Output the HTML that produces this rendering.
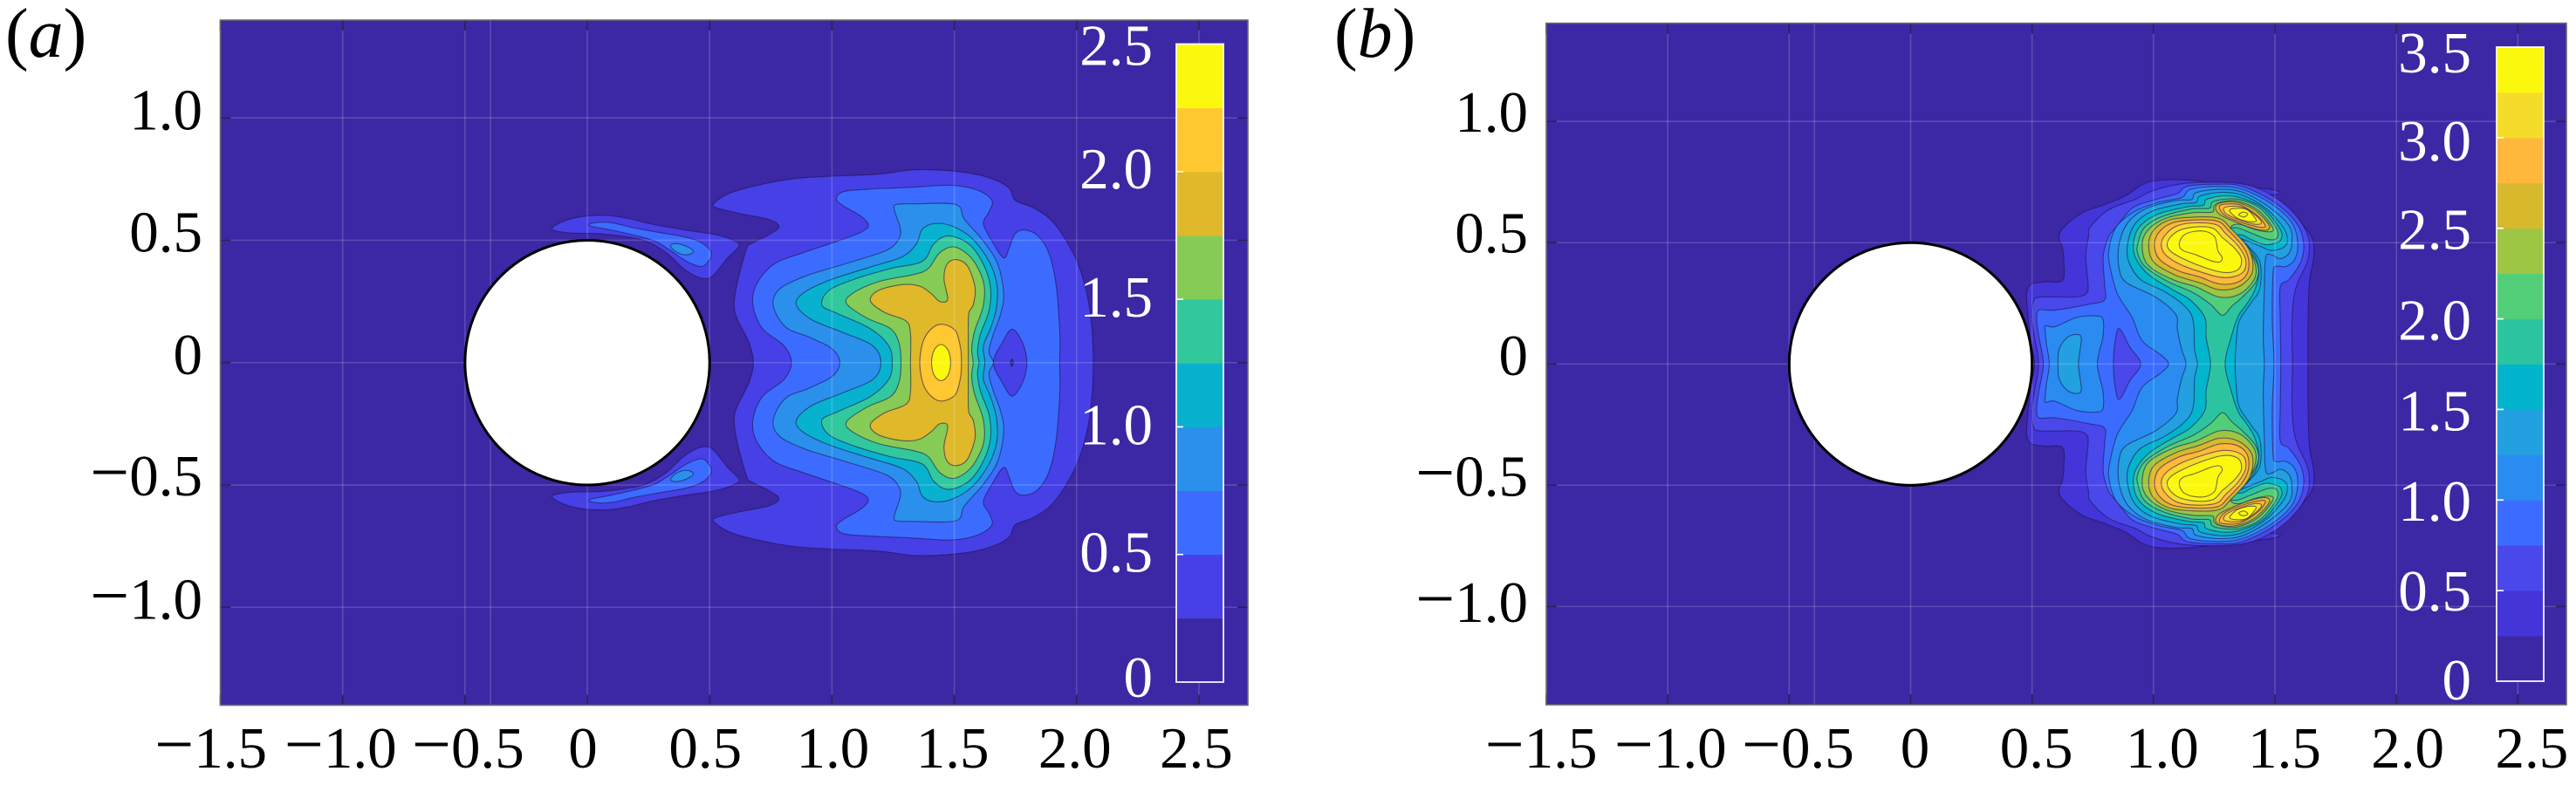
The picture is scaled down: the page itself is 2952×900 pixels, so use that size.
<!DOCTYPE html>
<html lang="en">
<head>
<meta charset="utf-8">
<title>Contour panels a and b</title>
<style>
html,body{margin:0;padding:0;background:#fff;}
svg{display:block;}
text{font-family:"Liberation Serif",serif;}
</style>
</head>
<body>
<svg id="figure" xmlns="http://www.w3.org/2000/svg" width="2952" height="900" viewBox="0 0 2952 900">
  <rect width="2952" height="900" fill="#ffffff"/>
  <text x="6" y="65" font-size="80" fill="#000">(<tspan font-style="italic">a</tspan>)</text>
  <text x="1529" y="65" font-size="80" fill="#000">(<tspan font-style="italic">b</tspan>)</text>
  <g id="panel-a"></g>
  <g id="panel-b"></g>
</svg>
<script>
// ---- shared axis values ----
const xTicks = [-1.5,-1,-0.5,0,0.5,1,1.5,2,2.5];
const xTickLabels = ['\u22121.5','\u22121.0','\u22120.5','0','0.5','1.0','1.5','2.0','2.5'];
const yTicks = [-1,-0.5,0,0.5,1];
const yTickLabels = ['\u22121.0','\u22120.5','0','0.5','1.0'];
const extraGridX = [-0.396];
const cylinderRadius = [0.5];

// ---- panel (a) values ----
const levelsA = [0,0.25,0.5,0.75,1,1.25,1.5,1.75,2,2.25,2.5];
const colorsA = ['#3c27a4','#4640e6','#3c6cff','#2a90ec','#08b2cf','#32c89e','#86cb55','#dfb92a','#ffc730','#fbf80e'];
const cbarTicksA = [0,0.5,1,1.5,2,2.5];
const cbarLabelsA = ['0','0.5','1.0','1.5','2.0','2.5'];
// contours: upper half in data coordinates (mirrored about y = 0)
const a025 = [[.679,0],[.661,.081],[.614,.176],[.600,.235],[.614,.331],[.650,.461],[.667,.485],[.739,.521],[.784,.556],[.739,.586],[.620,.610],[.525,.634],[.519,.652],[.584,.693],[.715,.729],[.858,.753],[1.000,.762],[1.190,.770],[1.333,.788],[1.452,.786],[1.571,.773],[1.666,.747],[1.726,.711],[1.749,.663],[1.821,.634],[1.892,.586],[1.951,.509],[2.011,.390],[2.053,.224],[2.068,0]];
const a025Lobe = [[-.144,.545],[-.106,.574],[-.034,.595],[.073,.602],[.168,.589],[.263,.566],[.382,.545],[.524,.523],[.596,.500],[.620,.477],[.572,.426],[.524,.366],[.495,.345],[.453,.349],[.394,.384],[.322,.450],[.239,.497],[.156,.515],[.049,.527],[-.070,.530]];
const a050 = [[.834,0],[.804,.069],[.715,.140],[.677,.235],[.691,.319],[.762,.402],[.881,.449],[1.024,.497],[1.119,.533],[1.149,.562],[1.119,.598],[1.048,.640],[1.018,.669],[1.048,.699],[1.155,.709],[1.333,.717],[1.488,.725],[1.595,.705],[1.654,.663],[1.642,.616],[1.619,.568],[1.654,.497],[1.702,.428],[1.726,.473],[1.749,.527],[1.785,.542],[1.839,.521],[1.886,.449],[1.916,.319],[1.931,.128],[1.931,0]];
const a050Lobe = [[.011,.559],[.025,.571],[.096,.572],[.191,.551],[.287,.533],[.394,.515],[.465,.491],[.507,.450],[.495,.414],[.465,.393],[.406,.414],[.334,.462],[.275,.497],[.191,.521],[.096,.542]];
const a050Hole = [[1.660,0],[1.696,.081],[1.737,.137],[1.779,.081],[1.797,0]];
const a025Hole = [[1.729,0],[1.735,.015],[1.742,0]];
const a075 = [[1.032,0],[1.000,.057],[.905,.105],[.810,.146],[.760,.235],[.786,.301],[.893,.354],[1.048,.402],[1.214,.455],[1.268,.497],[1.280,.545],[1.256,.622],[1.262,.646],[1.333,.649],[1.506,.646],[1.541,.586],[1.619,.497],[1.678,.402],[1.702,.283],[1.690,.200],[1.660,.117],[1.642,.045],[1.660,0]];
const a075Lobe = [[.340,.479],[.370,.486],[.411,.473],[.433,.456],[.423,.444],[.394,.441],[.358,.456]];
const a100 = [[1.200,0],[1.167,.069],[1.048,.122],[.917,.176],[.855,.235],[.881,.283],[.988,.336],[1.155,.390],[1.286,.432],[1.345,.485],[1.369,.545],[1.416,.568],[1.488,.559],[1.571,.509],[1.642,.414],[1.674,.319],[1.672,.224],[1.648,.140],[1.619,.069],[1.625,0]];
const a125 = [[1.246,0],[1.232,.069],[1.155,.140],[1.024,.200],[.959,.235],[.988,.295],[1.095,.342],[1.238,.384],[1.369,.414],[1.416,.485],[1.476,.518],[1.559,.485],[1.619,.402],[1.648,.307],[1.642,.212],[1.607,.117],[1.595,.045],[1.601,0]];
const a150 = [[1.282,0],[1.274,.081],[1.238,.140],[1.143,.182],[1.060,.241],[1.084,.283],[1.190,.331],[1.333,.360],[1.393,.384],[1.440,.449],[1.500,.473],[1.571,.426],[1.619,.331],[1.619,.235],[1.583,.128],[1.571,.057],[1.577,0]];
const a175 = [[1.321,0],[1.321,.117],[1.303,.170],[1.214,.206],[1.157,.253],[1.190,.295],[1.286,.319],[1.357,.313],[1.405,.283],[1.440,.250],[1.473,.259],[1.458,.342],[1.470,.402],[1.506,.421],[1.553,.396],[1.585,.307],[1.577,.235],[1.559,.200],[1.557,.105],[1.557,0]];
const a200 = [[1.359,0],[1.375,.093],[1.416,.146],[1.458,.156],[1.506,.128],[1.526,.057],[1.529,0]];
const a225 = [[1.407,0],[1.418,.052],[1.446,.074],[1.474,.052],[1.485,0]];
const contoursA = [[1,a025],[1,a025Lobe],[2,a050],[2,a050Lobe],[1,a050Hole],[0,a025Hole],[3,a075Lobe],[3,a075],[4,a100],[5,a125],[6,a150],[7,a175],[8,a200],[9,a225]];

// ---- panel (b) values ----
const levelsB = [0,0.25,0.5,0.75,1,1.25,1.5,1.75,2,2.25,2.5,2.75,3,3.25,3.5];
const colorsB = ['#3c27a4','#4335d8','#4a48ea','#3c6cff','#2a8cf0','#22a0e0','#02b5cc','#2cc4a0','#52ce78','#9cc644','#d8b82c','#ffb83c','#f6dc2a','#fbf80e'];
const cbarTicksB = [0,0.5,1,1.5,2,2.5,3,3.5];
const cbarLabelsB = ['0','0.5','1.0','1.5','2.0','2.5','3.0','3.5'];
const b025 = [[.511,0],[.493,.108],[.478,.264],[.481,.306],[.499,.330],[.553,.339],[.625,.344],[.631,.420],[.625,.480],[.611,.522],[.631,.564],[.708,.624],[.804,.659],[.888,.695],[.960,.743],[1.032,.758],[1.140,.758],[1.271,.743],[1.402,.729],[1.498,.717],[1.522,.705],[1.498,.698],[1.462,.701],[1.456,.689],[1.486,.671],[1.546,.629],[1.612,.575],[1.654,.515],[1.660,.443],[1.642,.336],[1.636,.156],[1.636,0]];
const b050 = [[.527,0],[.511,.108],[.499,.180],[.505,.258],[.535,.276],[.673,.276],[.721,.288],[.731,.324],[.721,.444],[.733,.528],[.739,.564],[.816,.636],[.924,.678],[.996,.714],[1.116,.743],[1.259,.749],[1.390,.737],[1.498,.689],[1.582,.617],[1.636,.528],[1.636,.432],[1.594,.336],[1.576,.264],[1.570,.156],[1.572,0]];
const b075 = [[.547,0],[.529,.108],[.519,.180],[.529,.222],[.595,.222],[.733,.246],[.799,.264],[.799,.324],[.793,.444],[.817,.528],[.847,.564],[.912,.642],[1.008,.678],[1.097,.702],[1.139,.732],[1.259,.741],[1.366,.732],[1.498,.666],[1.588,.582],[1.618,.498],[1.606,.420],[1.558,.348],[1.522,.318],[1.522,.180],[1.524,0]];
const b075Hole = [[.835,0],[.839,.072],[.851,.138],[.867,.138],[.901,.072],[.947,0]];
const b100Left = [[.571,0],[.559,.084],[.553,.150],[.559,.158],[.595,.154],[.685,.192],[.769,.198],[.793,.180],[.791,.108],[.769,0]];
const b125Left = [[.607,0],[.611,.060],[.643,.108],[.685,.122],[.703,.102],[.691,0]];
const b100 = [[1.062,0],[1.032,.036],[.953,.096],[.912,.192],[.852,.288],[.822,.396],[.816,.468],[.846,.564],[.924,.630],[1.020,.666],[1.116,.686],[1.152,.720],[1.259,.732],[1.366,.720],[1.486,.660],[1.570,.582],[1.594,.498],[1.582,.432],[1.546,.402],[1.504,.402],[1.492,.372],[1.489,.180],[1.496,0]];
const b125 = [[1.134,0],[1.116,.060],[1.098,.144],[1.092,.204],[1.008,.276],[.888,.336],[.858,.396],[.858,.492],[.894,.582],[.972,.642],[1.092,.674],[1.157,.678],[1.175,.706],[1.271,.720],[1.366,.708],[1.474,.648],[1.558,.570],[1.570,.504],[1.558,.456],[1.522,.434],[1.486,.450],[1.462,.438],[1.456,.300],[1.452,.120],[1.456,0]];
const b150 = [[1.181,0],[1.169,.060],[1.163,.180],[1.127,.240],[1.043,.300],[.947,.348],[.899,.420],[.893,.492],[.923,.576],[.995,.630],[1.115,.660],[1.175,.666],[1.193,.693],[1.283,.708],[1.366,.696],[1.462,.642],[1.534,.564],[1.552,.510],[1.534,.480],[1.486,.468],[1.438,.486],[1.378,.510],[1.360,.516],[1.390,.486],[1.438,.420],[1.438,.312],[1.402,.252],[1.354,.180],[1.342,.108],[1.336,0]];
const b175 = [[1.235,0],[1.217,.108],[1.211,.192],[1.151,.264],[1.079,.306],[.983,.366],[.929,.432],[.917,.492],[.941,.564],[1.019,.618],[1.139,.648],[1.205,.654],[1.217,.678],[1.283,.693],[1.355,.686],[1.451,.642],[1.523,.552],[1.523,.510],[1.499,.498],[1.463,.492],[1.409,.510],[1.367,.531],[1.343,.528],[1.379,.492],[1.421,.438],[1.433,.372],[1.415,.300],[1.379,.240],[1.349,.198],[1.319,.108],[1.295,0]];
const b200 = [[.935,.456],[.935,.492],[.959,.558],[1.031,.606],[1.151,.638],[1.229,.642],[1.241,.666],[1.283,.678],[1.355,.678],[1.439,.642],[1.504,.564],[1.510,.522],[1.474,.513],[1.402,.540],[1.342,.562],[1.312,.550],[1.342,.510],[1.402,.456],[1.432,.396],[1.420,.336],[1.366,.276],[1.324,.240],[1.283,.201],[1.235,.246],[1.163,.294],[1.055,.342],[.965,.402]];
const b225 = [[.953,.492],[.977,.552],[1.049,.600],[1.163,.624],[1.241,.626],[1.249,.650],[1.271,.666],[1.343,.672],[1.427,.636],[1.486,.570],[1.486,.546],[1.426,.552],[1.354,.576],[1.318,.564],[1.330,.522],[1.390,.468],[1.420,.408],[1.414,.348],[1.354,.288],[1.271,.276],[1.175,.318],[1.079,.348],[.977,.408]];
const b250Big = [[.980,.492],[1.001,.552],[1.067,.594],[1.175,.606],[1.271,.600],[1.319,.558],[1.385,.486],[1.408,.426],[1.402,.366],[1.349,.318],[1.271,.306],[1.187,.336],[1.091,.366],[1.001,.420]];
const b250Small = [[1.256,.648],[1.283,.666],[1.343,.666],[1.415,.636],[1.474,.576],[1.468,.552],[1.415,.558],[1.331,.588],[1.271,.618]];
const b275Big = [[1.004,.492],[1.025,.546],[1.079,.582],[1.175,.594],[1.265,.588],[1.307,.552],[1.367,.486],[1.391,.432],[1.385,.372],[1.343,.336],[1.271,.330],[1.187,.360],[1.103,.384],[1.025,.432]];
const b275Small = [[1.271,.650],[1.307,.660],[1.361,.654],[1.427,.612],[1.460,.570],[1.439,.564],[1.367,.582],[1.295,.612]];
const b300Big = [[1.032,.492],[1.050,.534],[1.098,.570],[1.175,.582],[1.259,.574],[1.295,.540],[1.349,.486],[1.379,.432],[1.373,.384],[1.331,.360],[1.271,.358],[1.199,.378],[1.115,.408],[1.050,.450]];
const b300Small = [[1.289,.642],[1.319,.650],[1.367,.646],[1.421,.612],[1.445,.582],[1.415,.576],[1.355,.594],[1.301,.618]];
const b325Big = [[1.056,.492],[1.074,.528],[1.115,.554],[1.187,.566],[1.247,.558],[1.283,.522],[1.331,.480],[1.361,.438],[1.355,.396],[1.319,.378],[1.271,.380],[1.199,.402],[1.127,.432],[1.074,.462]];
const b325Small = [[1.313,.633],[1.343,.642],[1.385,.636],[1.415,.606],[1.421,.588],[1.385,.588],[1.343,.602]];
const b350Big = [[1.106,.492],[1.121,.528],[1.163,.546],[1.217,.546],[1.253,.522],[1.265,.468],[1.283,.438],[1.271,.420],[1.235,.426],[1.175,.450],[1.121,.468]];
const b350Small = [[1.351,.615],[1.369,.626],[1.388,.618],[1.372,.606]];
const contoursB = [[1,b025],[2,b050],[3,b075],[2,b075Hole],[4,b100Left],[5,b125Left],[4,b100],[5,b125],[6,b150],[7,b175],[8,b200],[9,b225],[10,b250Big],[10,b250Small],[11,b275Big],[11,b275Small],[12,b300Big],[12,b300Small],[13,b325Big],[13,b325Small],[13,b350Big],[13,b350Small]];

// ---- layout (not data) ----
const SVGNS = 'http://www.w3.org/2000/svg';
const layoutA = {
  root:'panel-a', left:252.5, right:1430, top:23, bottom:808.5, ymax:1.4,
  cbLeft:1348, cbRight:1402, cbTop:50.5, cbBottom:782,
  xNudge:[-11,-2.5,3.5,-5,-5,1,-2,-2,-3], yNudge:[13,12,13.4,13,13.5], yRight:232,
  cbRightText:1321, cbNudge:[17,20,20,20,19,24]
};
const layoutB = {
  root:'panel-b', left:1772, right:2941, top:26.6, bottom:808, ymax:1.405,
  cbLeft:2861, cbRight:2915, cbTop:54, cbBottom:781,
  xNudge:[-6,3,10,5,5,10,11,13,16], yNudge:[17.8,12,12.6,11,12], yRight:1751,
  cbRightText:2832, cbNudge:[21,23,23.5,24,24,24,26,29]
};

function make(parent, tag, attrs){
  const el = document.createElementNS(SVGNS, tag);
  for (const k in attrs) el.setAttribute(k, attrs[k]);
  parent.appendChild(el);
  return el;
}

// negative labels use a slightly enlarged minus sign, as in the typeset original
function setLabel(el, label){
  if (label.charAt(0) === '\u2212'){
    const minus = document.createElementNS(SVGNS, 'tspan');
    minus.setAttribute('font-size', '80');
    minus.textContent = '\u2212';
    el.appendChild(minus);
    el.appendChild(document.createTextNode(label.slice(1)));
  } else {
    el.textContent = label;
  }
}

function smoothClosed(pts){
  const n = pts.length;
  let d = 'M' + pts[0][0].toFixed(1) + ' ' + pts[0][1].toFixed(1);
  for (let i = 0; i < n; i++){
    const p0 = pts[(i-1+n)%n], p1 = pts[i], p2 = pts[(i+1)%n], p3 = pts[(i+2)%n];
    const c1x = p1[0] + (p2[0]-p0[0])/6, c1y = p1[1] + (p2[1]-p0[1])/6;
    const c2x = p2[0] - (p3[0]-p1[0])/6, c2y = p2[1] - (p3[1]-p1[1])/6;
    d += 'C' + c1x.toFixed(1) + ' ' + c1y.toFixed(1) + ' ' + c2x.toFixed(1) + ' ' + c2y.toFixed(1) + ' ' + p2[0].toFixed(1) + ' ' + p2[1].toFixed(1);
  }
  return d + 'Z';
}

function drawPanel(L, contours, colors, levels, cbarTicks, cbarLabels, panelKey){
  const root = document.getElementById(L.root);
  const xmin = -1.5, xmax = 2.7, ymax = L.ymax;
  const sx = v => L.left + (v - xmin) * (L.right - L.left) / (xmax - xmin);
  const sy = v => L.top + (ymax - v) * (L.bottom - L.top) / (2 * ymax);
  const cbMax = levels[levels.length - 1];
  const cy = v => L.cbBottom - (v / cbMax) * (L.cbBottom - L.cbTop);
  const W = L.right - L.left, H = L.bottom - L.top;

  const bg = make(root, 'rect', {x:L.left, y:L.top, width:W, height:H, fill:colors[0]});
  
  

  contours.forEach(function(entry){
    const idx = entry[0], half = entry[1];
    const spec = {fill:colors[idx], stroke:'#1c1450', 'stroke-opacity':0.6, 'stroke-width':1.1, 'stroke-linejoin':'round'};
    if (half[0][1] === 0){
      const up = half.map(p => [sx(p[0]), sy(p[1])]);
      const down = half.slice(1, -1).reverse().map(p => [sx(p[0]), sy(-p[1])]);
      const path = make(root, 'path', Object.assign({d:smoothClosed(up.concat(down))}, spec));
      
      
    } else {
      const upper = make(root, 'path', Object.assign({d:smoothClosed(half.map(p => [sx(p[0]), sy(p[1])]))}, spec));
      
      
      const lower = make(root, 'path', Object.assign({d:smoothClosed(half.map(p => [sx(p[0]), sy(-p[1])]))}, spec));
      
      
    }
  });

  // grid
  xTicks.concat(extraGridX).forEach(function(t){
    const g = make(root, 'line', {x1:sx(t), x2:sx(t), y1:L.top, y2:L.bottom, stroke:'#ffffff', 'stroke-opacity':0.17, 'stroke-width':1.6});
    
    
  });
  yTicks.forEach(function(t){
    const g = make(root, 'line', {x1:L.left, x2:L.right, y1:sy(t), y2:sy(t), stroke:'#ffffff', 'stroke-opacity':0.17, 'stroke-width':1.6});
    
    
  });

  // cylinder
  const circle = make(root, 'ellipse', {cx:sx(0), cy:sy(0), rx:sx(cylinderRadius[0])-sx(0), ry:sy(0)-sy(cylinderRadius[0]), fill:'#ffffff', stroke:'#000000', 'stroke-width':3});
  
  

  // ticks
  xTicks.forEach(function(t){
    [[L.top, L.top + 12],[L.bottom, L.bottom - 12]].forEach(function(ends){
      const tk = make(root, 'line', {x1:sx(t), x2:sx(t), y1:ends[0], y2:ends[1], stroke:'#2a2258', 'stroke-width':1.7});
      
      
    });
  });
  yTicks.forEach(function(t){
    [[L.left, L.left + 12],[L.right, L.right - 12]].forEach(function(ends){
      const tk = make(root, 'line', {x1:ends[0], x2:ends[1], y1:sy(t), y2:sy(t), stroke:'#2a2258', 'stroke-width':1.7});
      
      
    });
  });

  // frame
  const frame = make(root, 'rect', {x:L.left, y:L.top, width:W, height:H, fill:'none', stroke:'#6a6a72', 'stroke-width':1.6});
  
  

  // tick labels
  xTicks.forEach(function(t, i){
    const lab = make(root, 'text', {x:sx(t) + L.xNudge[i], y:880, 'font-size':67, 'text-anchor':'middle', fill:'#000'});
    
    
    setLabel(lab, xTickLabels[i]);
  });
  yTicks.forEach(function(t, i){
    const lab = make(root, 'text', {x:L.yRight, y:sy(t) + L.yNudge[i], 'font-size':67, 'text-anchor':'end', fill:'#000'});
    
    
    setLabel(lab, yTickLabels[i]);
  });

  // colorbar
  colors.forEach(function(col, i){
    const seg = make(root, 'rect', {x:L.cbLeft, y:cy(levels[i+1]), width:L.cbRight - L.cbLeft, height:cy(levels[i]) - cy(levels[i+1]) + 0.4, fill:col});
    
    
  });
  const cbBorder = make(root, 'rect', {x:L.cbLeft, y:L.cbTop, width:L.cbRight - L.cbLeft, height:L.cbBottom - L.cbTop, fill:'none', stroke:'#ffffff', 'stroke-opacity':0.85, 'stroke-width':2});
  
  
  cbarTicks.forEach(function(v, i){
    if (v > 0 && v < cbMax){
      const tk = make(root, 'line', {x1:L.cbLeft, x2:L.cbLeft + 8, y1:cy(v), y2:cy(v), stroke:'#ffffff', 'stroke-width':1.7});
      
      
    }
    const lab = make(root, 'text', {x:L.cbRightText, y:cy(v) + L.cbNudge[i], 'font-size':67, 'text-anchor':'end', fill:'#ffffff'});
    
    
    lab.textContent = cbarLabels[i];
  });
}

drawPanel(layoutA, contoursA, colorsA, levelsA, cbarTicksA, cbarLabelsA, 'panel-a');
drawPanel(layoutB, contoursB, colorsB, levelsB, cbarTicksB, cbarLabelsB, 'panel-b');
</script>
</body>
</html>
